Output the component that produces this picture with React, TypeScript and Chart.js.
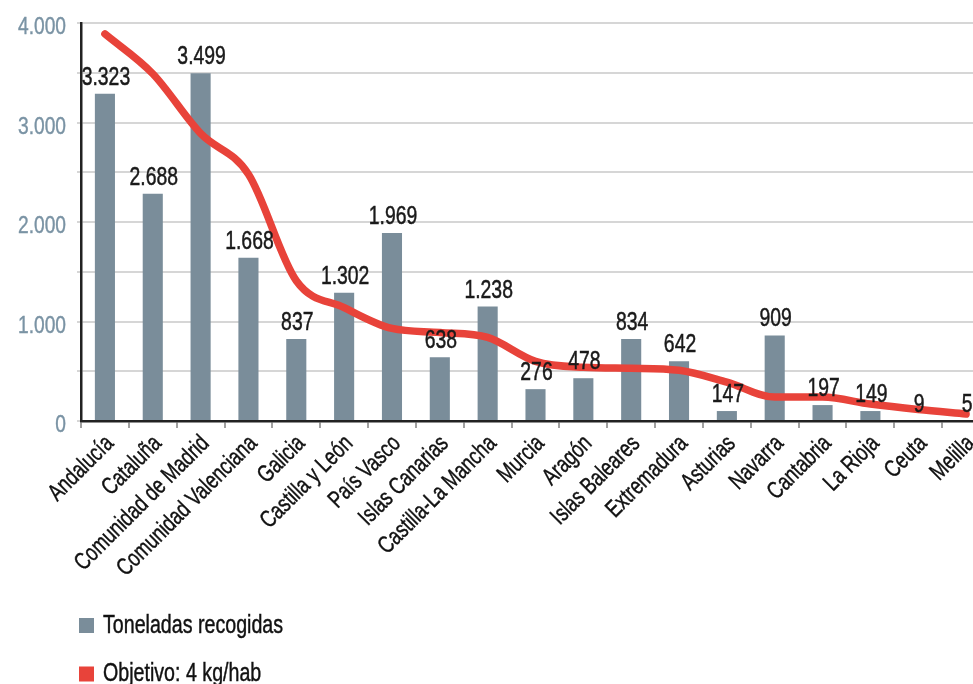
import React, { useEffect, useRef } from "react";
import { Chart, registerables } from "chart.js";

Chart.register(...registerables);

const categories = [
  "Andalucía", "Cataluña", "Comunidad de Madrid", "Comunidad Valenciana", "Galicia",
  "Castilla y León", "País Vasco", "Islas Canarias", "Castilla-La Mancha", "Murcia",
  "Aragón", "Islas Baleares", "Extremadura", "Asturias", "Navarra", "Cantabria",
  "La Rioja", "Ceuta", "Melilla",
];
const toneladas = [3290, 2285, 3495, 1640, 825, 1290, 1890, 640, 1150, 320, 430, 825, 600, 100, 860, 160, 100, 0, 0];
const valueLabels = ["3.323", "2.688", "3.499", "1.668", "837", "1.302", "1.969", "638", "1.238", "276", "478", "834", "642", "147", "909", "197", "149", "9", "5"];
const objetivo = [3890, 3490, 2890, 2480, 1410, 1140, 930, 890, 840, 600, 540, 530, 510, 390, 240, 240, 170, 115, 70];
const seriesNames = ["Toneladas recogidas", "Objetivo: 4 kg/hab"];
const yTickValues = [0, 1000, 2000, 3000, 4000];
const yTickLabels = ["0", "1.000", "2.000", "3.000", "4.000"];

const FONT = "'Liberation Sans', Arial, sans-serif";
const BAR_COLOR = "#7a8d9a";
const LINE_COLOR = "#e8433a";

function drawText(ctx: any, text: string, x: number, y: number, align: string, sx: number, bold: number, angle = 0) {
  ctx.save();
  ctx.translate(x, y);
  if (angle) ctx.rotate(angle);
  ctx.scale(sx, 1);
  ctx.textAlign = align;
  ctx.fillText(text, 0, 0);
  if (bold > 0) {
    ctx.lineWidth = bold;
    ctx.strokeStyle = ctx.fillStyle;
    ctx.strokeText(text, 0, 0);
  }
  ctx.restore();
}

const textPlugin = {
  id: "texts",
  afterDatasetsDraw(chart: any) {
    const ctx = chart.ctx;
    const meta = chart.getDatasetMeta(1);
    ctx.save();
    ctx.font = `25.5px ${FONT}`;
    ctx.fillStyle = "#1a1a1a";
    ctx.textBaseline = "alphabetic";
    meta.data.forEach((el: any, i: number) => {
      drawText(ctx, valueLabels[i], el.x + 1, el.y - 9, "center", 0.76, 0.5);
    });
    ctx.restore();
  },
  afterDraw(chart: any) {
    const ctx = chart.ctx;
    const xs = chart.scales.x;
    const ys = chart.scales.y;
    ctx.save();
    // y tick labels
    ctx.font = `24px ${FONT}`;
    ctx.fillStyle = "#7a93a4";
    ctx.textBaseline = "alphabetic";
    yTickValues.forEach((v, i) => {
      drawText(ctx, yTickLabels[i], 66, ys.getPixelForValue(v) + 11, "right", 0.8, 0.4);
    });
    // x tick labels, rotated
    ctx.font = `24px ${FONT}`;
    ctx.fillStyle = "#111";
    ctx.textBaseline = "middle";
    categories.forEach((c, i) => {
      const px = xs.getPixelForValue(i);
      drawText(ctx, c, px + 5, ys.bottom + 19, "right", 0.76, 0.45, -Math.PI / 4);
    });
    // legend
    ctx.font = `25.5px ${FONT}`;
    ctx.textBaseline = "alphabetic";
    const colors = [BAR_COLOR, LINE_COLOR];
    const ly = [625.5, 674];
    seriesNames.forEach((n, i) => {
      ctx.fillStyle = colors[i];
      ctx.fillRect(79, ly[i] - 7.5, 15, 15);
      ctx.fillStyle = "#111";
      drawText(ctx, n, 103, ly[i] + 7, "left", 0.77, 0.45);
    });
    ctx.restore();
  },
};

export default function App() {
  const ref = useRef<HTMLCanvasElement>(null);
  useEffect(() => {
    if (!ref.current) return;
    const chart = new Chart(ref.current, {
      type: "bar",
      data: {
        labels: categories,
        datasets: [
          {
            type: "line",
            label: seriesNames[1],
            data: objetivo,
            borderColor: LINE_COLOR,
            backgroundColor: LINE_COLOR,
            borderWidth: 7.5,
            pointRadius: 0,
            cubicInterpolationMode: "monotone",
            borderCapStyle: "round",
            order: 0,
          } as any,
          {
            type: "bar",
            label: seriesNames[0],
            data: toneladas,
            backgroundColor: BAR_COLOR,
            barPercentage: 0.42,
            categoryPercentage: 1,
            order: 1,
          },
        ],
      },
      options: {
        animation: false,
        responsive: false,
        maintainAspectRatio: false,
        layout: { padding: { top: 23, left: 0, right: 0, bottom: 0 } },
        plugins: { legend: { display: false }, tooltip: { enabled: false } },
        scales: {
          x: {
            offset: true,
            afterFit: (s: any) => { s.height = 263; },
            grid: {
              display: true,
              offset: true,
              drawOnChartArea: false,
              drawTicks: true,
              tickLength: 7,
              color: "#a0a0a0",
              lineWidth: 2,
            },
            border: { display: true, color: "#222", width: 2.5 },
            ticks: { display: false, autoSkip: false },
          },
          y: {
            min: 0,
            max: 4000,
            afterFit: (s: any) => { s.width = 81; },
            grid: {
              color: "#d6d6d6",
              lineWidth: 2,
              drawTicks: true,
              tickLength: 4,
            },
            border: { display: true, color: "#222", width: 2.5 },
            ticks: { display: false, stepSize: 500 },
          },
        },
      },
      plugins: [textPlugin],
    });
    return () => chart.destroy();
  }, []);
  return (
    <div style={{ position: "absolute", left: 0, top: 0, width: 973, height: 684, overflow: "hidden", background: "#fff" }}>
      <canvas ref={ref} width={990} height={684} style={{ width: 990, height: 684, display: "block" }} />
    </div>
  );
}
